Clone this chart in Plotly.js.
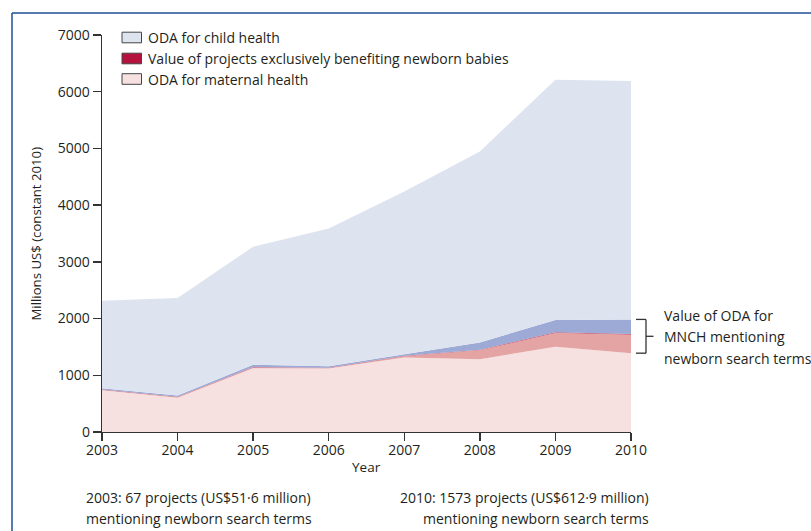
<!DOCTYPE html>
<html>
<head>
<meta charset="utf-8">
<script src="https://cdn.plot.ly/plotly-3.0.1.min.js"></script>
<style>html,body{margin:0;padding:0;background:#fff;}#chart{width:811px;height:531px;}</style>
</head>
<body>
<div id="chart"></div>
<script>
// ---- data (millions US$, constant 2010), stacked increments ----
const years = [2003, 2004, 2005, 2006, 2007, 2008, 2009, 2010];
const maternalHealth = [736, 606, 1125, 1118, 1313, 1284, 1502, 1390];
const maternalMentioningNewborn = [10, 9, 15, 10, 25, 160, 248, 330];
const exclusivelyNewborn = [4, 5, 5, 5, 5, 6, 7, 7];
const childMentioningNewborn = [20, 25, 40, 25, 30, 130, 218, 258];
const childHealthRest = [1544, 1717, 2083, 2429, 2867, 3367, 4235, 4205];

const legendLabels = ["ODA for child health", "Value of projects exclusively benefiting newborn babies", "ODA for maternal health"];
const bracketLabel = ["Value of ODA for", "MNCH mentioning", "newborn search terms"];
const noteLeft = ["2003: 67 projects (US$51·6 million)", "mentioning newborn search terms"];
const noteRight = ["2010: 1573 projects (US$612·9 million)", "mentioning newborn search terms"];
const yTicks = [0, 1000, 2000, 3000, 4000, 5000, 6000, 7000];

// ---- styles ----
const C = {
  child: "#dde3ef", childNb: "#9caad5", excl: "#b5123e", matNb: "#e4a4a4", mat: "#f6e1e0",
  text: "#231f20", axis: "#333333", frame: "#1f4f96"
};
const FONT = "Open Sans, Noto Sans, sans-serif";

const W = 811, H = 531, L = 102, R = 180, T = 35, B = 99;
const pw = W - L - R, ph = H - T - B;
const px = x => (x - L) / pw;          // pixel x -> paper
const py = y => (H - B - y) / ph;      // pixel y -> paper

function area(vals, color, name) {
  return {x: years, y: vals, type: "scatter", mode: "lines", stackgroup: "one",
    line: {width: 0, color: color}, fillcolor: color, name: name, showlegend: false, hoverinfo: "x+y+name"};
}
const traces = [
  area(maternalHealth, C.mat, legendLabels[2]),
  area(maternalMentioningNewborn, C.matNb, "Maternal ODA mentioning newborn"),
  area(exclusivelyNewborn, C.excl, legendLabels[1]),
  area(childMentioningNewborn, C.childNb, "Child ODA mentioning newborn"),
  area(childHealthRest, C.child, legendLabels[0])
];

const shapes = [
  // frame
  {type: "line", xref: "paper", yref: "paper", x0: px(12), x1: px(W + 5), y0: py(13), y1: py(13), line: {color: C.frame, width: 1.5}},
  {type: "line", xref: "paper", yref: "paper", x0: px(12), x1: px(12), y0: py(13), y1: py(H + 5), line: {color: C.frame, width: 1.5}}
];
const annotations = [];
// legend (drawn)
const legColors = [C.child, C.excl, C.mat];
const legY = [37.5, 58.5, 79];
for (let i = 0; i < 3; i++) {
  shapes.push({type: "rect", xref: "paper", yref: "paper", x0: px(122), x1: px(141.5), y0: py(legY[i] - 5.3), y1: py(legY[i] + 5.3),
    fillcolor: legColors[i], line: {color: "#444", width: 1}});
  annotations.push({xref: "paper", yref: "paper", x: px(146), y: py(legY[i]), xanchor: "left", yanchor: "middle",
    text: legendLabels[i], showarrow: false, font: {family: FONT, size: 14, color: C.text}});
}
// bracket tied to 2010 values
const last = years.length - 1;
const bTop = maternalHealth[last] + maternalMentioningNewborn[last] + exclusivelyNewborn[last] + childMentioningNewborn[last];
const bBot = maternalHealth[last];
const bMid = (bTop + bBot) / 2;
const bx = px(646);
shapes.push({type: "line", xref: "paper", yref: "y", x0: px(636), x1: bx, y0: bTop, y1: bTop, line: {color: C.axis, width: 1.3}});
shapes.push({type: "line", xref: "paper", yref: "y", x0: bx, x1: bx, y0: bTop, y1: bBot, line: {color: C.axis, width: 1.3}});
shapes.push({type: "line", xref: "paper", yref: "y", x0: px(636), x1: bx, y0: bBot, y1: bBot, line: {color: C.axis, width: 1.3}});
shapes.push({type: "line", xref: "paper", yref: "y", x0: bx, x1: px(653.5), y0: bMid, y1: bMid, line: {color: C.axis, width: 1.3}});
const brY = [315, 336.7, 358.3];
for (let i = 0; i < 3; i++) {
  annotations.push({xref: "paper", yref: "paper", x: px(662), y: py(brY[i]), xanchor: "left", yanchor: "middle",
    text: bracketLabel[i], showarrow: false, font: {family: FONT, size: 14, color: C.text}});
}
// axis titles
annotations.push({xref: "paper", yref: "paper", x: px(35), y: 0.5, textangle: -90, xanchor: "center", yanchor: "middle",
  text: "Millions US$ (constant 2010)", showarrow: false, font: {family: FONT, size: 13.2, color: C.text}});
annotations.push({xref: "paper", yref: "paper", x: 0.5, y: py(467), xanchor: "center", yanchor: "middle",
  text: "Year", showarrow: false, font: {family: FONT, size: 13.5, color: C.text}});
// notes
const noteY = [497, 518];
for (let i = 0; i < 2; i++) {
  annotations.push({xref: "paper", yref: "paper", x: px(84), y: py(noteY[i]), xanchor: "left", yanchor: "middle",
    text: noteLeft[i], showarrow: false, font: {family: FONT, size: 14, color: C.text}});
  annotations.push({xref: "paper", yref: "paper", x: px(651), y: py(noteY[i]), xanchor: "right", yanchor: "middle",
    text: noteRight[i], showarrow: false, font: {family: FONT, size: 14, color: C.text}});
}

const layout = {
  width: W, height: H,
  margin: {l: L, r: R, t: T, b: B, pad: 0},
  paper_bgcolor: "#fff", plot_bgcolor: "#fff",
  showlegend: false,
  font: {family: FONT, color: C.text},
  xaxis: {range: [years[0], years[last]], tickvals: years, ticktext: years.map(String),
    showgrid: false, zeroline: false, showline: true, linecolor: C.axis, linewidth: 1.3, ticklabelstandoff: -3,
    ticks: "outside", ticklen: 8, tickcolor: C.axis, tickwidth: 1.3, tickfont: {family: FONT, size: 14, color: C.text}},
  yaxis: {range: [0, 7000], tickvals: yTicks, ticktext: yTicks.map(String),
    showgrid: false, zeroline: false, showline: true, linecolor: C.axis, linewidth: 1.3,
    ticks: "outside", ticklen: 8, tickcolor: C.axis, tickwidth: 1.3, tickfont: {family: FONT, size: 14, color: C.text}},
  shapes: shapes,
  annotations: annotations
};

Plotly.newPlot("chart", traces, layout, {displayModeBar: false, staticPlot: true});
</script>
</body>
</html>
